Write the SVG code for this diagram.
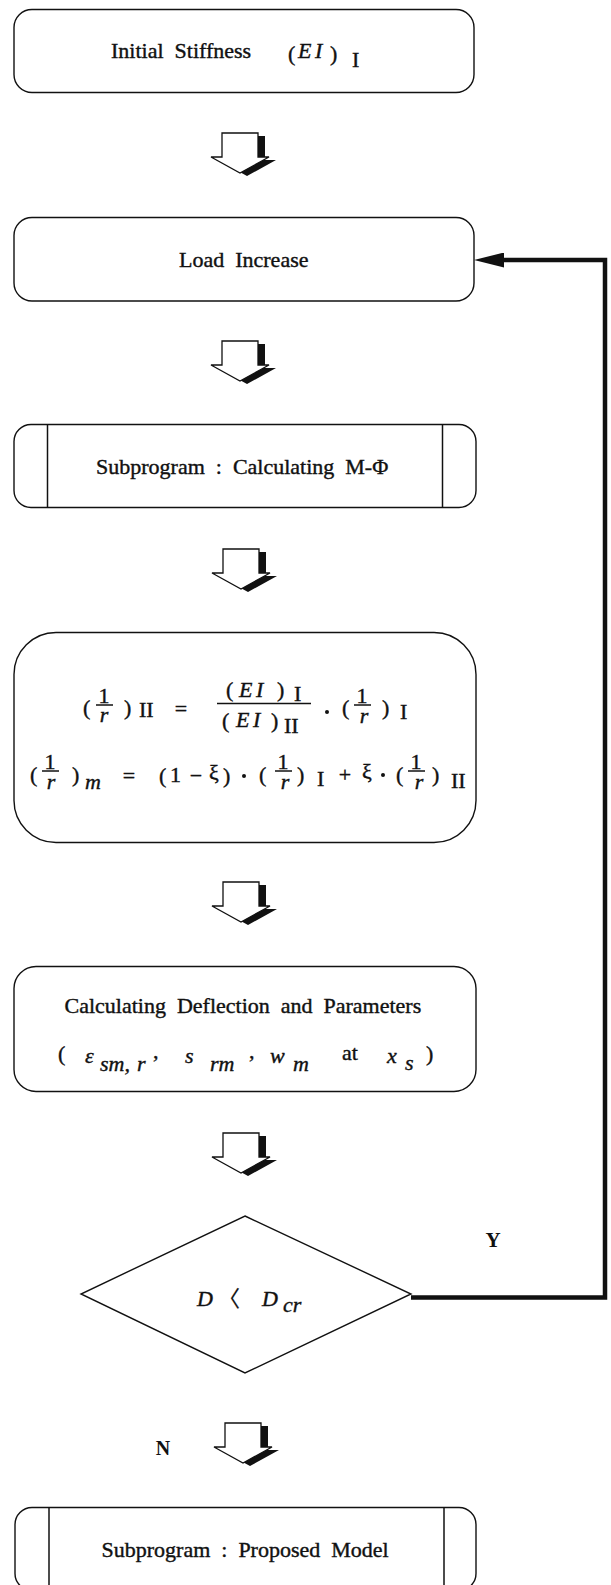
<svg xmlns="http://www.w3.org/2000/svg" xmlns:xlink="http://www.w3.org/1999/xlink" width="611" height="1585" viewBox="0 0 611 1585">
<style>
.box{fill:none;stroke:#111;stroke-width:1.4}
.t{font-family:"Liberation Serif","Times New Roman",serif;font-size:22px;fill:#111;stroke:#111;stroke-width:0.4}
.i{font-style:italic}
.bar{stroke:#111;stroke-width:1.5}
.lbl{font-family:"Liberation Serif","Times New Roman",serif;font-weight:bold;fill:#111}
.loop{fill:none;stroke:#111;stroke-width:4.5}
</style>
<defs>
<g id="blk">
<polygon points="11,0 47,0 47,24 58,24 29,40 0,24 11,24" fill="#111" transform="translate(7,3)"/>
<polygon points="11,0 47,0 47,24 58,24 29,40 0,24 11,24" fill="#fff" stroke="#111" stroke-width="1.3" stroke-linejoin="miter"/>
</g>
<marker id="ah" viewBox="0 0 30 15" refX="0" refY="7.5" markerWidth="30" markerHeight="15" markerUnits="userSpaceOnUse" orient="auto">
<path d="M0,0 L30,7.5 L0,15 z" fill="#111"/>
</marker>
</defs>
<rect width="611" height="1585" fill="#fff"/>

<g id="connectors">
<use xlink:href="#blk" x="211" y="133"/>
<use xlink:href="#blk" x="211" y="341"/>
<use xlink:href="#blk" x="212" y="549"/>
<use xlink:href="#blk" x="212" y="882"/>
<use xlink:href="#blk" x="212" y="1133"/>
<use xlink:href="#blk" x="214" y="1423"/>
<path class="loop" d="M411,1297.5 H605 V260 H504" marker-end="url(#ah)"/>
</g>

<g id="initial-stiffness">
<rect class="box" x="14" y="9.5" width="460" height="83" rx="18"/>
<text class="t" x="111" y="58">Initial&#160; Stiffness</text>
<text class="t" x="288" y="61" font-size="26">(</text>
<text class="t i" x="298" y="58" font-size="28">E</text>
<text class="t i" x="315" y="58" font-size="28">I</text>
<text class="t" x="330" y="61" font-size="26">)</text>
<text class="t" x="352" y="67" font-size="13">I</text>
</g>

<g id="load-increase">
<rect class="box" x="14" y="217.5" width="460" height="83.5" rx="18"/>
<text class="t" x="179" y="267">Load&#160; Increase</text>
</g>

<g id="subprogram-mphi">
<rect class="box" x="14" y="424.5" width="462" height="83" rx="17"/>
<line class="bar" x1="47.5" y1="424.5" x2="47.5" y2="507.5"/>
<line class="bar" x1="442.5" y1="424.5" x2="442.5" y2="507.5"/>
<text class="t" x="96" y="474">Subprogram&#160; :&#160; Calculating&#160; M-Φ</text>
</g>

<g id="curvature-equations">
<rect class="box" x="14" y="632.5" width="462" height="210" rx="42"/>
<!-- line 1 -->
<text class="t" x="83" y="715" font-size="25">(</text>
<text class="t" x="104" y="703" font-size="24" text-anchor="middle">1</text>
<line class="bar" x1="96" y1="705" x2="113" y2="705"/>
<text class="t i" x="104" y="722" font-size="28" text-anchor="middle">r</text>
<text class="t" x="124" y="715" font-size="25">)</text>
<text class="t" x="139" y="717" font-size="13">II</text>
<text class="t" x="181" y="716" font-size="27" text-anchor="middle">=</text>
<line class="bar" x1="217" y1="703.5" x2="311" y2="703.5"/>
<text class="t" x="226" y="697" font-size="25">(</text>
<text class="t i" x="239" y="697" font-size="28">E</text>
<text class="t i" x="256" y="697" font-size="28">I</text>
<text class="t" x="277" y="697" font-size="25">)</text>
<text class="t" x="294" y="701" font-size="13">I</text>
<text class="t" x="222" y="728" font-size="25">(</text>
<text class="t i" x="236" y="727" font-size="28">E</text>
<text class="t i" x="253" y="727" font-size="28">I</text>
<text class="t" x="271" y="728" font-size="25">)</text>
<text class="t" x="284" y="733" font-size="13">II</text>
<circle cx="327" cy="712" r="2" fill="#111"/>
<text class="t" x="342" y="715" font-size="25">(</text>
<text class="t" x="362" y="703" font-size="24" text-anchor="middle">1</text>
<line class="bar" x1="354" y1="705" x2="371" y2="705"/>
<text class="t i" x="364" y="723" font-size="28" text-anchor="middle">r</text>
<text class="t" x="382" y="715" font-size="25">)</text>
<text class="t" x="400" y="719" font-size="13">I</text>
<!-- line 2 -->
<text class="t" x="30" y="782" font-size="25">(</text>
<text class="t" x="50" y="769" font-size="24" text-anchor="middle">1</text>
<line class="bar" x1="42" y1="771" x2="59" y2="771"/>
<text class="t i" x="51" y="789" font-size="28" text-anchor="middle">r</text>
<text class="t" x="72" y="782" font-size="25">)</text>
<text class="t i" x="85" y="789" font-size="17">m</text>
<text class="t" x="129" y="783" font-size="27" text-anchor="middle">=</text>
<text class="t" x="159" y="783" font-size="26">(</text>
<text class="t" x="170" y="782" font-size="31">1</text>
<text class="t" x="196" y="783" font-size="30" text-anchor="middle">−</text>
<text class="t" x="209" y="780" font-size="20">ξ</text>
<text class="t" x="223" y="783" font-size="26">)</text>
<circle cx="244" cy="776" r="2" fill="#111"/>
<text class="t" x="259" y="782" font-size="25">(</text>
<text class="t" x="283" y="769" font-size="24" text-anchor="middle">1</text>
<line class="bar" x1="275" y1="771" x2="292" y2="771"/>
<text class="t i" x="285" y="789" font-size="28" text-anchor="middle">r</text>
<text class="t" x="297" y="782" font-size="25">)</text>
<text class="t" x="317" y="786" font-size="13">I</text>
<text class="t" x="345" y="782" font-size="28" text-anchor="middle">+</text>
<text class="t" x="362" y="779" font-size="20">ξ</text>
<circle cx="383" cy="775" r="2" fill="#111"/>
<text class="t" x="396" y="782" font-size="25">(</text>
<text class="t" x="416" y="769" font-size="24" text-anchor="middle">1</text>
<line class="bar" x1="408" y1="771" x2="425" y2="771"/>
<text class="t i" x="419" y="789" font-size="28" text-anchor="middle">r</text>
<text class="t" x="432" y="782" font-size="25">)</text>
<text class="t" x="451" y="788" font-size="13">II</text>
</g>

<g id="deflection-parameters">
<rect class="box" x="14" y="966.5" width="462" height="125" rx="22"/>
<text class="t" x="64.5" y="1013">Calculating&#160; Deflection&#160; and&#160; Parameters</text>
<text class="t" x="58" y="1061" font-size="22">(</text>
<text class="t i" x="85" y="1063" font-size="28">ε</text>
<text class="t i" x="100" y="1071" font-size="22">sm,</text>
<text class="t i" x="137" y="1071" font-size="22">r</text>
<text class="t" x="153" y="1058" font-size="24">,</text>
<text class="t i" x="185" y="1063" font-size="32">s</text>
<text class="t i" x="210" y="1071" font-size="22">rm</text>
<text class="t" x="249" y="1058" font-size="24">,</text>
<text class="t i" x="270" y="1063" font-size="28">w</text>
<text class="t i" x="293" y="1071" font-size="22">m</text>
<text class="t" x="342" y="1060" font-size="20">at</text>
<text class="t i" x="387" y="1063" font-size="28">x</text>
<text class="t i" x="405" y="1070" font-size="18">s</text>
<text class="t" x="426" y="1061" font-size="22">)</text>
</g>

<g id="decision">
<polygon class="box" points="245,1216 411,1294 245,1373 81,1294"/>
<text class="t i" x="197" y="1306" font-size="22">D</text>
<text class="t" x="218" y="1306" font-size="22" style="font-family:'Noto Sans CJK SC',sans-serif;stroke-width:0.2">〈</text>
<text class="t i" x="262" y="1306" font-size="22">D</text>
<text class="t i" x="283" y="1312" font-size="14">cr</text>
</g>

<text class="lbl" x="493" y="1247" font-size="21" text-anchor="middle">Y</text>
<text class="lbl" x="163" y="1455" font-size="20" text-anchor="middle">N</text>

<g id="subprogram-model">
<rect class="box" x="15" y="1507.5" width="461" height="83" rx="17"/>
<line class="bar" x1="49" y1="1507.5" x2="49" y2="1590"/>
<line class="bar" x1="444" y1="1507.5" x2="444" y2="1590"/>
<text class="t" x="101.5" y="1557">Subprogram&#160; :&#160; Proposed&#160; Model</text>
</g>
</svg>
